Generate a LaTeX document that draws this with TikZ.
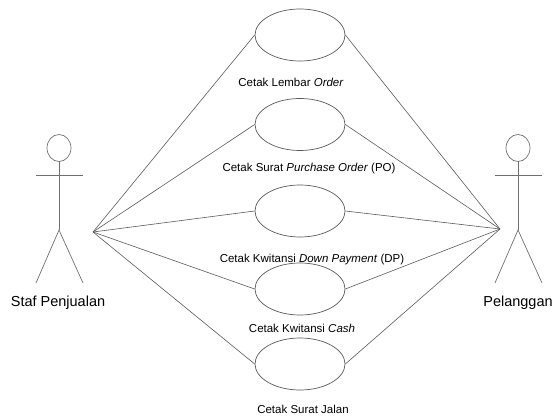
\documentclass[tikz,border=0pt]{standalone}
\usepackage{fontspec}
\setmainfont{Liberation Sans}
\usepackage{tikz}
\usetikzlibrary{shapes.geometric}

\definecolor{linegray}{HTML}{5A5A5A}
\definecolor{actorgray}{HTML}{707070}

\begin{document}
\begin{tikzpicture}[
  x=1pt, y=-1pt,
  every node/.style={font=\fontsize{11.5}{13}\selectfont},
  usecase/.style={ellipse, draw=linegray, line width=0.7pt, minimum width=90pt, minimum height=52pt, inner sep=0pt},
  assoc/.style={draw=linegray, line width=0.6pt},
  actor/.style={draw=actorgray, line width=0.7pt},
  actorname/.style={font=\fontsize{14.5}{16}\selectfont},
]
  \useasboundingbox (0,0) rectangle (553,419);

  % aktor kiri
  \draw[actor] (59,148) ellipse [x radius=12, y radius=13.5];
  \draw[actor] (59,161.5) -- (59,230);
  \draw[actor] (36,175) -- (83,175);
  \draw[actor] (36,283) -- (59,230) -- (83,283);
  \node[actorname] (stafname) at (58,303) {Staf Penjualan};
  \coordinate (staf) at (93,232);

  % aktor kanan
  \draw[actor] (518,148) ellipse [x radius=12, y radius=13.5];
  \draw[actor] (518,161.5) -- (518,230);
  \draw[actor] (495,175) -- (542,175);
  \draw[actor] (495,283) -- (518,230) -- (542,283);
  \node[actorname] (pelname) at (518,303) {Pelanggan};
  \coordinate (pel) at (500,229);

  % use case
  \node[usecase] (uc1) at (300,35) {};
  \node[usecase] (uc2) at (300,124.5) {};
  \node[usecase] (uc3) at (300,211) {};
  \node[usecase] (uc4) at (300,289) {};
  \node[usecase] (uc5) at (300,364) {};

  \node (lbl1) at (291,82) {Cetak Lembar \textit{Order}};
  \node (lbl2) at (309,169) {Cetak Surat \textit{Purchase Order} (PO)};
  \node (lbl3) at (312,260) {Cetak Kwitansi \textit{Down Payment} (DP)};
  \node (lbl4) at (302,328) {Cetak Kwitansi \textit{Cash}};
  \node (lbl5) at (303,409) {Cetak Surat Jalan};

  \foreach \u in {1,...,5} {
    \draw[assoc] (staf) -- (uc\u.west);
    \draw[assoc] (pel) -- (uc\u.east);
  }
\end{tikzpicture}
\end{document}
